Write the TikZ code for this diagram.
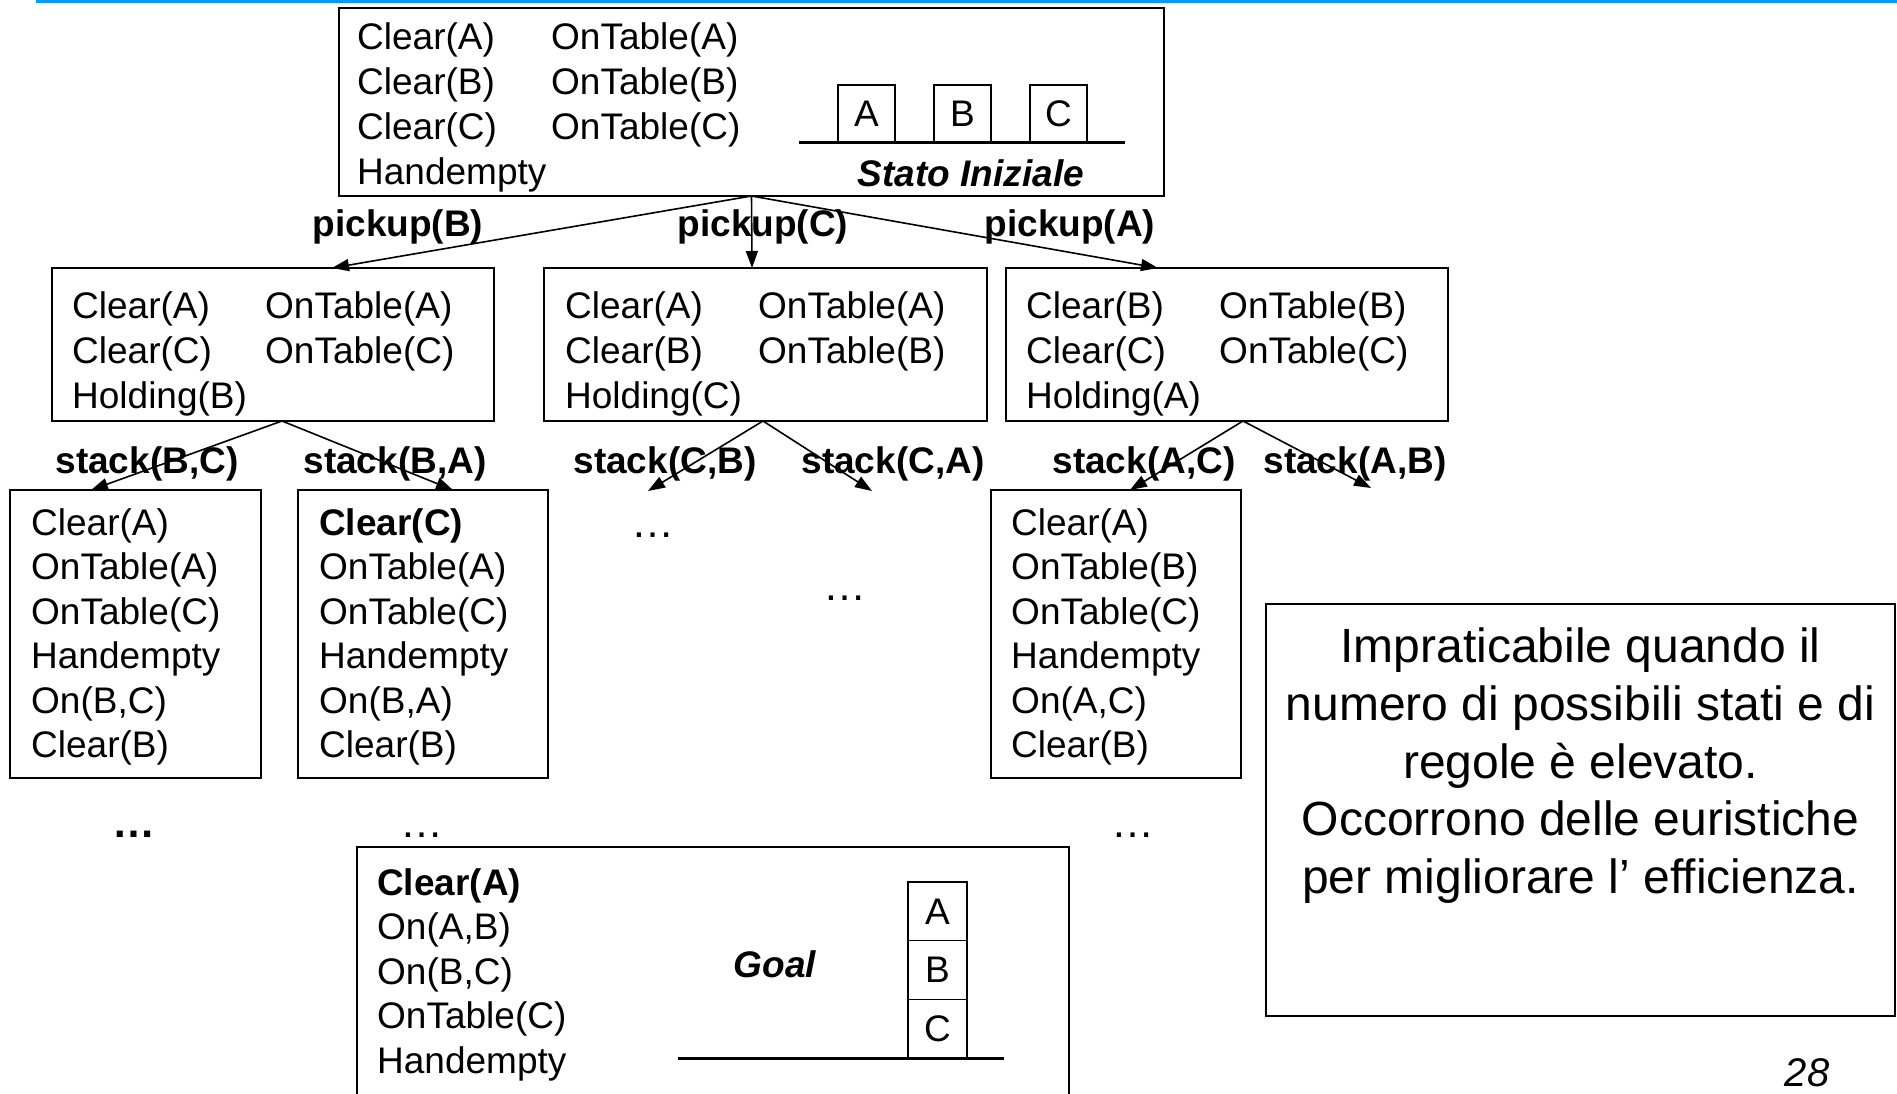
\documentclass[tikz,border=0pt]{standalone}
\usepackage{fontspec}
\setmainfont{Liberation Sans}
\usetikzlibrary{arrows.meta}
\definecolor{topblue}{RGB}{0,153,255}
\tikzset{
  box/.style={draw, line width=2pt, inner sep=0pt, outer sep=0pt},
  ln/.style={inner sep=0pt, anchor=base west, font=\fontsize{37}{44}\selectfont},
  lb/.style={inner sep=0pt, anchor=base, font=\fontsize{37}{44}\selectfont\bfseries},
  dots/.style={inner sep=0pt, anchor=base, font=\fontsize{43}{50}\selectfont},
  arr/.style={line width=1.6pt, -{Triangle[length=17pt,width=12pt]}},
  blk/.style={draw, line width=1.6pt, inner sep=0pt, outer sep=0pt, font=\fontsize{37}{44}\selectfont},
  tbl/.style={line width=3pt},
  note/.style={inner sep=0pt, anchor=base, font=\fontsize{48}{58}\selectfont},
}
\begin{document}
\begin{tikzpicture}[x=1pt,y=-1pt]
\clip (0,0) rectangle (1897,1094);
\fill[topblue] (36,0) rectangle (1897,3.5);

% boxes
\node[box, minimum width=825pt, minimum height=188pt] (s0) at (751.5,102) {};
\node[box, minimum width=442pt, minimum height=153pt] (b1) at (273,344.5) {};
\node[box, minimum width=443pt, minimum height=153pt] (b2) at (765.5,344.5) {};
\node[box, minimum width=442pt, minimum height=153pt] (b3) at (1227,344.5) {};
\node[box, minimum width=251pt, minimum height=288pt] (b4) at (135.5,634) {};
\node[box, minimum width=250pt, minimum height=288pt] (b5) at (423,634) {};
\node[box, minimum width=250pt, minimum height=288pt] (b6) at (1116,634) {};
\node[box, minimum width=712pt, minimum height=273pt] (g) at (713,983.5) {};
\node[box, minimum width=629pt, minimum height=412pt] (nt) at (1580.5,810) {};

% initial state
\foreach \t [count=\i] in {Clear(A),Clear(B),Clear(C),Handempty}
  \node[ln] (s0a\i) at (357,5+45*\i) {\t};
\foreach \t [count=\i] in {OnTable(A),OnTable(B),OnTable(C)}
  \node[ln] (s0b\i) at (551,5+45*\i) {\t};
\node[blk, minimum width=57pt, minimum height=58pt] (ia) at (866.5,114) {A};
\node[blk, minimum width=57pt, minimum height=58pt] (ib) at (962.5,114) {B};
\node[blk, minimum width=57pt, minimum height=58pt] (ic) at (1058.5,114) {C};
\draw[tbl] (799,143) -- (1125,143);
\node[lb, font=\fontsize{37}{44}\selectfont\bfseries\itshape] (stato) at (971,187) {Stato Iniziale};

% level 2
\foreach \t [count=\i] in {Clear(A),Clear(C),Holding(B)}
  \node[ln] (b1a\i) at (72,273+45*\i) {\t};
\foreach \t [count=\i] in {OnTable(A),OnTable(C)}
  \node[ln] (b1b\i) at (265,273+45*\i) {\t};
\foreach \t [count=\i] in {Clear(A),Clear(B),Holding(C)}
  \node[ln] (b2a\i) at (565,273+45*\i) {\t};
\foreach \t [count=\i] in {OnTable(A),OnTable(B)}
  \node[ln] (b2b\i) at (758,273+45*\i) {\t};
\foreach \t [count=\i] in {Clear(B),Clear(C),Holding(A)}
  \node[ln] (b3a\i) at (1026,273+45*\i) {\t};
\foreach \t [count=\i] in {OnTable(B),OnTable(C)}
  \node[ln] (b3b\i) at (1219,273+45*\i) {\t};

% level 3
\foreach \t [count=\i] in {Clear(A),OnTable(A),OnTable(C),Handempty,{On(B,C)},Clear(B)}
  \node[ln] (b4a\i) at (31,490.5+44.5*\i) {\t};
\foreach \t [count=\i] in {{\bfseries Clear(C)},OnTable(A),OnTable(C),Handempty,{On(B,A)},Clear(B)}
  \node[ln] (b5a\i) at (319,490.5+44.5*\i) {\t};
\foreach \t [count=\i] in {Clear(A),OnTable(B),OnTable(C),Handempty,{On(A,C)},Clear(B)}
  \node[ln] (b6a\i) at (1011,490.5+44.5*\i) {\t};

% goal
\foreach \t [count=\i] in {{\bfseries Clear(A)},{On(A,B)},{On(B,C)},OnTable(C),Handempty}
  \node[ln] (ga\i) at (377,850.5+44.5*\i) {\t};
\node[lb, font=\fontsize{37}{44}\selectfont\bfseries\itshape] (goal) at (775,977) {Goal};
\node[blk, minimum width=59pt, minimum height=58.7pt] (ga) at (937.5,911.3) {A};
\node[blk, minimum width=59pt, minimum height=58.7pt] (gb) at (937.5,970) {B};
\node[blk, minimum width=59pt, minimum height=58.7pt] (gc) at (937.5,1028.7) {C};
\draw[tbl] (678,1058) -- (1004,1058);

% dots
\node[dots] (d1) at (653,537) {…};
\node[dots] (d2) at (845,600) {…};
\node[dots, font=\fontsize{43}{50}\selectfont\bfseries] (d3) at (134,837) {…};
\node[dots] (d4) at (422,837) {…};
\node[dots] (d5) at (1133,837) {…};

% note
\node[note] (n1) at (1580.5,662) {Impraticabile quando il};
\node[note] (n2) at (1580.5,720) {numero di possibili stati e di};
\node[note] (n3) at (1580.5,778) {regole è elevato.};
\node[note] (n4) at (1580.5,835) {Occorrono delle euristiche};
\node[note] (n5) at (1580.5,893) {per migliorare l’ efficienza.};
\node[inner sep=0pt, anchor=base, font=\fontsize{40}{48}\selectfont\itshape] (pg) at (1807,1086) {28};

% labels
\node[lb] (pB) at (398,236) {pickup(B)};
\node[lb] (pC) at (763,236) {pickup(C)};
\node[lb] (pA) at (1070,236) {pickup(A)};
\node[lb] (sBC) at (147,473) {stack(B,C)};
\node[lb] (sBA) at (395,473) {stack(B,A)};
\node[lb] (sCB) at (665,473) {stack(C,B)};
\node[lb] (sCA) at (893,473) {stack(C,A)};
\node[lb] (sAC) at (1144,473) {stack(A,C)};
\node[lb] (sAB) at (1355,473) {stack(A,B)};

% arrows
\coordinate (cb) at (648,491);
\coordinate (ca) at (872,491);
\coordinate (ab) at (1371,488);
\draw[arr] (s0.south) -- ([xshift=59pt]b1.north);
\draw[arr] (s0.south) -- ([xshift=-13.5pt]b2.north);
\draw[arr] (s0.south) -- ([xshift=-69pt]b3.north);
\draw[arr] ([xshift=9pt]b1.south) -- ([xshift=-44.5pt]b4.north);
\draw[arr] ([xshift=9pt]b1.south) -- ([xshift=30pt]b5.north);
\draw[arr] ([xshift=-2.5pt]b2.south) -- (cb);
\draw[arr] ([xshift=-2.5pt]b2.south) -- (ca);
\draw[arr] ([xshift=16pt]b3.south) -- ([xshift=14pt]b6.north);
\draw[arr] ([xshift=16pt]b3.south) -- (ab);
\end{tikzpicture}
\end{document}
